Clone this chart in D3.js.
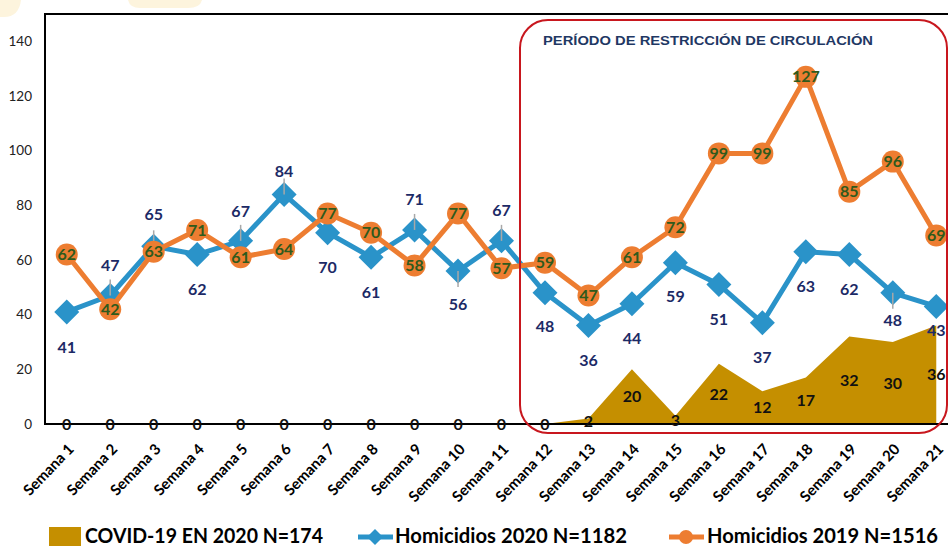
<!DOCTYPE html>
<html>
<head>
<meta charset="utf-8">
<script src="https://cdn.jsdelivr.net/npm/d3@7"></script>
<style>
  html, body { margin: 0; padding: 0; background: #fff; }
  svg { display: block; font-family: Lato, "Open Sans", sans-serif; }
</style>
</head>
<body>
<div id="chart"></div>
<script>
// weeks
var semanas = d3.range(1, 22).map(function(i){ return 'Semana ' + i; });
// series values
var covid2020 = [0,0,0,0,0,0,0,0,0,0,0,0,2,20,3,22,12,17,32,30,36];
var homicidios2020 = [41,47,65,62,67,84,70,61,71,56,67,48,36,44,59,51,37,63,62,48,43];
var homicidios2019 = [62,42,63,71,61,64,77,70,58,77,57,59,47,61,72,99,99,127,85,96,69];
var yTicks = [0,20,40,60,80,100,120,140];
var legendLabels = ['COVID-19 EN 2020 N=174', 'Homicidios 2020 N=1182', 'Homicidios 2019 N=1516'];

// label placement for the 2020 series (pixels, negative = above)
var labelDy2020 = [35,-30,-32,35,-29,-23,35,35,-31,33,-30,34,35,35,34,35,35,35,35,28,24];
var leaders2020 = {1:-1, 2:-1, 4:-1, 5:-1, 8:-1, 9:1, 10:-1, 19:1};

var W = 948, H = 546;
var svg = d3.select('#chart').append('svg')
  .attr('width', W).attr('height', H);

// pale background blobs at the top
svg.append('path').attr('fill', '#fdf4dd')
  .attr('d', 'M0,0 H21 Q19,17 4,17 H0 Z');
svg.append('path').attr('fill', '#fdf4dd')
  .attr('d', 'M128,0 H202 Q200,8 188,8 H140 Q130,8 128,0 Z');

var x = d3.scaleBand().domain(semanas).range([45, 958]);
var y = d3.scaleLinear().domain([0, 150]).range([424, 14]);
var cx = function(i){ return x(semanas[i]) + x.bandwidth() / 2; };

// y axis labels
svg.append('g').selectAll('text')
  .data(yTicks).enter().append('text')
  .attr('x', 32).attr('y', function(d){ return y(d); })
  .attr('dy', '0.35em')
  .attr('text-anchor', 'end')
  .attr('font-size', 13.5)
  .attr('fill', '#222')
  .text(function(d){ return d; });

// covid area
var area = d3.area()
  .x(function(d, i){ return cx(i); })
  .y0(y(0))
  .y1(function(d){ return y(d); });
svg.append('path').datum(covid2020)
  .attr('fill', '#c58f00')
  .attr('d', area);

// plot frame
svg.append('line').attr('x1', 45).attr('x2', W).attr('y1', 14).attr('y2', 14)
  .attr('stroke', '#000').attr('stroke-width', 2);
svg.append('line').attr('x1', 45).attr('x2', 45).attr('y1', 13).attr('y2', 425)
  .attr('stroke', '#000').attr('stroke-width', 2);
svg.append('line').attr('x1', 44).attr('x2', W).attr('y1', 424).attr('y2', 424)
  .attr('stroke', '#000').attr('stroke-width', 2);

// x axis labels
svg.append('g').selectAll('text')
  .data(semanas).enter().append('text')
  .attr('transform', function(d, i){ return 'translate(' + (cx(i) + 8) + ',450) rotate(-46)'; })
  .attr('text-anchor', 'end')
  .attr('font-size', 15)
  .attr('font-weight', 'bold')
  .attr('fill', '#000')
  .text(function(d){ return d; });

var line = d3.line()
  .x(function(d, i){ return cx(i); })
  .y(function(d){ return y(d); });

// homicidios 2020
svg.append('path').datum(homicidios2020)
  .attr('fill', 'none').attr('stroke', '#2a93c9')
  .attr('stroke-width', 5).attr('stroke-linejoin', 'round')
  .attr('d', line);
svg.append('g').selectAll('path')
  .data(homicidios2020).enter().append('path')
  .attr('fill', '#2a93c9')
  .attr('d', function(d, i){
    var px = cx(i), py = y(d), r = 12.5;
    return 'M' + px + ',' + (py - r) + 'L' + (px + r) + ',' + py + 'L' + px + ',' + (py + r) + 'L' + (px - r) + ',' + py + 'Z';
  });
// leader lines
svg.append('g').selectAll('line')
  .data(homicidios2020.map(function(d, i){ return {v: d, i: i}; })
    .filter(function(d){ return leaders2020[d.i]; }))
  .enter().append('line')
  .attr('x1', function(d){ return cx(d.i); })
  .attr('x2', function(d){ return cx(d.i); })
  .attr('y1', function(d){ return y(d.v); })
  .attr('y2', function(d){ return y(d.v) + leaders2020[d.i] * 16; })
  .attr('stroke', '#a8a8a8').attr('stroke-width', 1.5);

// homicidios 2019
svg.append('path').datum(homicidios2019)
  .attr('fill', 'none').attr('stroke', '#ed7d31')
  .attr('stroke-width', 5).attr('stroke-linejoin', 'round')
  .attr('d', line);
svg.append('g').selectAll('circle')
  .data(homicidios2019).enter().append('circle')
  .attr('cx', function(d, i){ return cx(i); })
  .attr('cy', function(d){ return y(d); })
  .attr('r', 11)
  .attr('fill', '#ed7d31');

// data labels
svg.append('g').selectAll('text')
  .data(covid2020).enter().append('text')
  .attr('x', function(d, i){ return cx(i); })
  .attr('y', function(d){ return y(d / 2); })
  .attr('dy', '0.35em')
  .attr('text-anchor', 'middle')
  .attr('font-size', 16).attr('font-weight', 'bold')
  .attr('fill', '#111')
  .text(function(d){ return d; });

svg.append('g').selectAll('text')
  .data(homicidios2020).enter().append('text')
  .attr('x', function(d, i){ return cx(i); })
  .attr('y', function(d, i){ return y(d) + labelDy2020[i]; })
  .attr('dy', '0.35em')
  .attr('text-anchor', 'middle')
  .attr('font-size', 16).attr('font-weight', 'bold')
  .attr('fill', '#1c2a66')
  .text(function(d){ return d; });

svg.append('g').selectAll('text')
  .data(homicidios2019).enter().append('text')
  .attr('x', function(d, i){ return cx(i); })
  .attr('y', function(d){ return y(d); })
  .attr('dy', '0.35em')
  .attr('text-anchor', 'middle')
  .attr('font-size', 16).attr('font-weight', 'bold')
  .attr('fill', '#2f5a1c')
  .text(function(d){ return d; });

// restriction period box
svg.append('rect')
  .attr('x', 520).attr('y', 20).attr('width', 427).attr('height', 413)
  .attr('rx', 28).attr('ry', 28)
  .attr('fill', 'none').attr('stroke', '#c8171e').attr('stroke-width', 2);
svg.append('text')
  .attr('x', 543).attr('y', 45)
  .attr('font-family', '"Liberation Sans", Arial, sans-serif')
  .attr('font-size', 12.5).attr('font-weight', 'bold')
  .attr('fill', '#1f3864')
  .attr('textLength', 330).attr('lengthAdjust', 'spacingAndGlyphs')
  .text('PERÍODO DE RESTRICCIÓN DE CIRCULACIÓN');

// legend
var lg = svg.append('g');
lg.append('rect').attr('x', 49).attr('y', 527).attr('width', 32).attr('height', 19).attr('fill', '#c58f00');
lg.append('text').attr('x', 85).attr('y', 542.5)
  .attr('font-size', 20).attr('font-weight', 'bold').attr('fill', '#000')
  .attr('textLength', 238).attr('lengthAdjust', 'spacingAndGlyphs')
  .text(legendLabels[0]);

lg.append('line').attr('x1', 358).attr('x2', 393).attr('y1', 537).attr('y2', 537)
  .attr('stroke', '#2a93c9').attr('stroke-width', 5);
lg.append('path').attr('fill', '#2a93c9')
  .attr('d', 'M375,529 L383,537 L375,545 L367,537 Z');
lg.append('text').attr('x', 395).attr('y', 542.5)
  .attr('font-size', 20).attr('font-weight', 'bold').attr('fill', '#000')
  .attr('textLength', 232).attr('lengthAdjust', 'spacingAndGlyphs')
  .text(legendLabels[1]);

lg.append('line').attr('x1', 669).attr('x2', 704).attr('y1', 537).attr('y2', 537)
  .attr('stroke', '#ed7d31').attr('stroke-width', 5);
lg.append('circle').attr('cx', 686).attr('cy', 537).attr('r', 7).attr('fill', '#ed7d31');
lg.append('text').attr('x', 707).attr('y', 542.5)
  .attr('font-size', 20).attr('font-weight', 'bold').attr('fill', '#000')
  .attr('textLength', 231).attr('lengthAdjust', 'spacingAndGlyphs')
  .text(legendLabels[2]);
</script>
</body>
</html>
